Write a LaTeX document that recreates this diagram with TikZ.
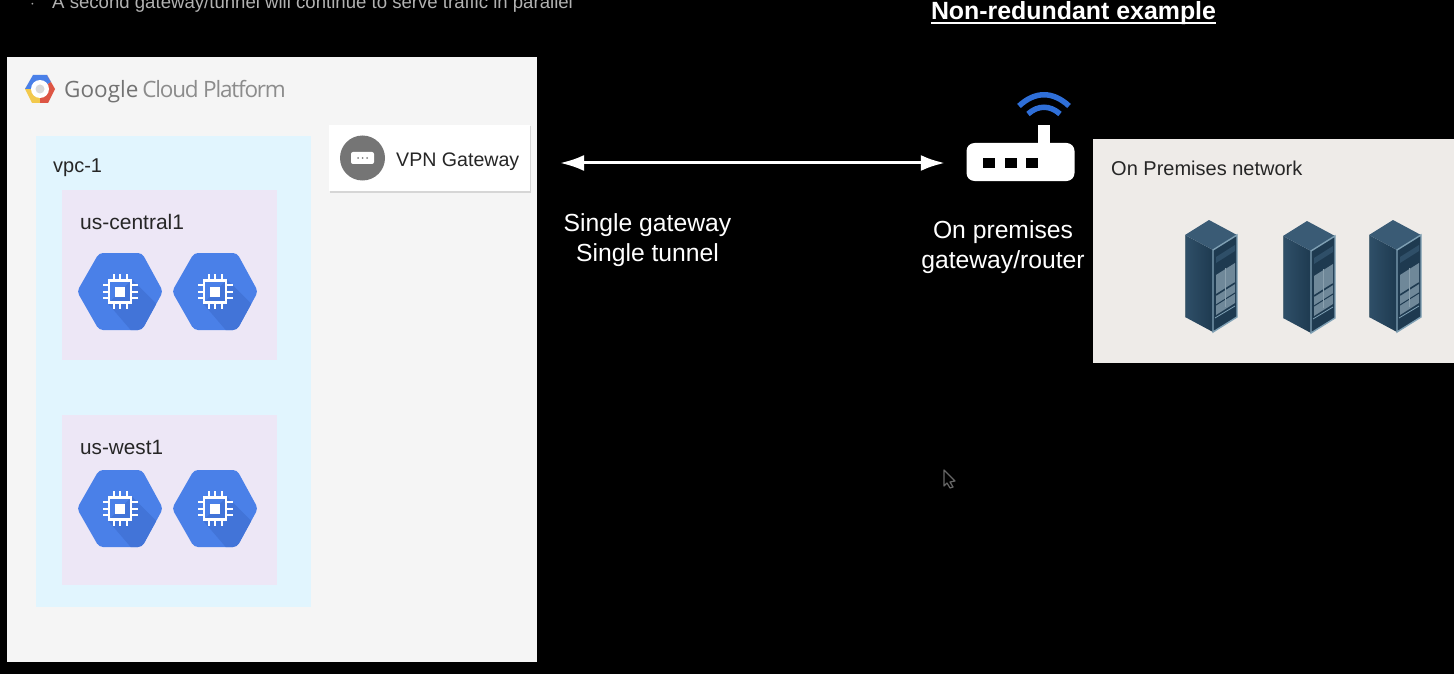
\documentclass[tikz,border=0pt]{standalone}
\usepackage{fontspec}
\usetikzlibrary{arrows.meta}
\setmainfont{Liberation Sans}
\newfontfamily\gcpfont{Open Sans}
\newfontfamily\gcptight[LetterSpace=-5.4]{Open Sans}
\definecolor{gcppanel}{HTML}{F5F5F5}
\definecolor{vpcblue}{HTML}{E1F5FE}
\definecolor{regionlilac}{HTML}{EDE7F6}
\definecolor{premgrey}{HTML}{EEEBE8}
\definecolor{hexblue}{HTML}{4A80E8}
\definecolor{hexdark}{HTML}{4274D8}
\definecolor{wifiblue}{HTML}{2F6FD8}
\definecolor{logoyellow}{HTML}{F2C94C}
\definecolor{logored}{HTML}{DD5544}
\definecolor{rackdark}{HTML}{1E3A50}
\definecolor{rackmid}{HTML}{2F4F68}
\definecolor{racktop}{HTML}{3A5B75}
\definecolor{rackedge}{HTML}{7FA0B4}
\definecolor{rackgrey}{HTML}{8AA0AE}
\tikzset{
	panel/.style={anchor=north west,inner sep=0pt,outer sep=0pt},
	lbl/.style={anchor=west,inner sep=0pt,text=black!85,font=\fontsize{20}{24}\selectfont},
	whitetext/.style={align=center,inner sep=0pt,text=white,font=\fontsize{24.7}{30}\selectfont},
	vm/.pic={
		\begin{scope}
			\clip[rounded corners=4pt] (-43,0) -- (-21,-38.5) -- (22,-38.5) -- (43,0) -- (22,38.5) -- (-21,38.5) -- cycle;
			\fill[hexblue] (-44,-40) rectangle (44,40);
			\fill[hexdark] (12,-12) -- (50,26) -- (50,40) -- (12,40) -- (-12,12) -- cycle;
		\end{scope}
		\draw[white,line width=2.8pt] (-11,-11) rectangle (11,11);
		\fill[white] (-5,-5) rectangle (5,5);
		\foreach \p in {-6.5,0,6.5} {
			\draw[white,line width=2pt] (\p,-11) -- (\p,-17.5);
			\draw[white,line width=2pt] (\p,11) -- (\p,17.5);
			\draw[white,line width=2pt] (-11,\p) -- (-17.5,\p);
			\draw[white,line width=2pt] (11,\p) -- (17.5,\p);
		}
	},
	rack/.pic={
		\shade[left color=rackmid,right color=rackdark] (0,0) -- (28,15) -- (28,97) -- (0,82) -- cycle;
		\fill[racktop] (0,0) -- (24,-15) -- (52,0) -- (28,15) -- cycle;
		\fill[rackdark] (28,15) -- (52,0) -- (52,82) -- (28,97) -- cycle;
		\fill[rackgrey!70!rackmid] (31,40) -- (50,28) -- (50,68) -- (31,80) -- cycle;
		\fill[rackmid] (31,22) -- (50,10) -- (50,16) -- (31,28) -- cycle;
		\draw[rackdark,line width=1.6pt] (31,60) -- (50,48);
		\draw[rackdark,line width=1pt] (31,70) -- (50,58);
		\draw[rackgrey,line width=0.6pt] (40.5,33) -- (40.5,72);
		\draw[rackedge,line width=1.4pt] (28,15) -- (52,0) -- (52,82) -- (28,97) -- cycle;
		\draw[rackedge,line width=0.8pt] (30,83) -- (50,71);
		\draw[rackedge!70!black,line width=0.6pt] (0,0) -- (0,82);
	}
}
\begin{document}
\begin{tikzpicture}[x=1pt,y=-1pt]
	\useasboundingbox (0,0) rectangle (1454,674);
	\fill[black] (0,0) rectangle (1454,674);
	% top line and title
	\node[anchor=base west,inner sep=0pt,text=black!35,font=\fontsize{18.6}{22}\selectfont] (bullet) at (30,9) {$\cdot$};
	\node[anchor=base west,inner sep=0pt,text=black!30,font=\fontsize{18.6}{22}\selectfont] (topline) at (52,9) {A second gateway/tunnel will continue to serve traffic in parallel};
	\node[anchor=base,inner sep=0pt,text=white,font=\bfseries\fontsize{24.9}{28}\selectfont] (title) at (1073.5,20) {Non-redundant example};
	\draw[white,line width=2pt] (title.base west) ++(0,3) -- ++(285,0);
	% cloud side
	\node[panel,fill=gcppanel,minimum width=530pt,minimum height=605pt] (gcp) at (7,57) {};
	\node[panel,fill=vpcblue,minimum width=275pt,minimum height=471pt] (vpc) at (36,136) {};
	\foreach \y/\n in {190/central,415/west}
		\node[panel,fill=regionlilac,minimum width=215pt,minimum height=170pt] (region\n) at (62,\y) {};
	% logo
	\fill[logoyellow] (40,89) -- (30,82) -- (25,89) -- (32,103) -- (46,103) -- cycle;
	\fill[hexblue] (40,89) -- (25,89) -- (33,75) -- (47,75) -- (51,82) -- cycle;
	\fill[logored] (40,89) -- (51,82) -- (47,75) -- (55,89) -- (48,103) -- (40,103) -- cycle;
	\node[circle,fill=white,minimum size=18pt,inner sep=0pt] (logo) at (40,89) {};
	\node[circle,fill=black!15,minimum size=9pt,inner sep=0pt] (logocore) at (40,89) {};
	\node[anchor=base west,inner sep=0pt,font=\gcpfont\fontsize{22.5}{26}\selectfont] (gcpname) at (64,98) {\textcolor{black!55}{Google}\kern4pt\textcolor{black!45}{\gcptight Cloud Platform}};
	\node[lbl] (vpclbl) at (53,167.5) {vpc-1};
	\node[lbl,font=\fontsize{21}{24}\selectfont] (centrallbl) at (80,222) {us-central1};
	\node[lbl,font=\fontsize{20.7}{24}\selectfont] (westlbl) at (80,447) {us-west1};
	% instances
	\foreach \x in {120,215} {
		\pic at (\x,291.5) {vm};
		\pic at (\x,508.5) {vm};
	}
	% vpn gateway
	\node[panel,fill=black!16,minimum width=201pt,minimum height=66pt] (gwshadow) at (330,126.5) {};
	\node[panel,fill=white,minimum width=201pt,minimum height=66pt] (vpngw) at (329,125) {};
	\node[circle,fill=black!54,minimum size=45pt,inner sep=0pt] (gwicon) at (362.5,158) {};
	\fill[white,rounded corners=2pt] (351,152) rectangle (374,164);
	\foreach \x in {358,362.5,367}
		\fill[black!50] (\x,158) circle (1pt);
	\node[lbl,font=\fontsize{19.6}{24}\selectfont] (gwlbl) at (396,161.5) {VPN Gateway};
	% router
	\node[fill=white,rounded corners=8pt,minimum width=108pt,minimum height=38pt,inner sep=0pt] (router) at (1020.5,162) {};
	\fill[white] (1038,125) rectangle (1050,145);
	\foreach \x in {983,1005,1026}
		\fill[black] (\x,158) rectangle +(12,10);
	\draw[wifiblue,line width=5.5pt] (1019,106) .. controls (1035,91) and (1053,91) .. (1069,106);
	\draw[wifiblue,line width=5.5pt] (1028,114) .. controls (1038,105) and (1050,105) .. (1060,114);
	% link
	\draw[white,line width=3pt,{Latex[length=24pt,width=16pt]}-{Latex[length=24pt,width=16pt]},shorten <=30pt,shorten >=21.5pt] ([yshift=-5pt]vpngw.east) -- ([yshift=-1pt]router.west);
	\node[whitetext] (linklbl) at (647.5,240) {Single gateway\\Single tunnel};
	\node[whitetext] (routerlbl) at (1003,247) {On premises\\gateway/router};
	% on premises
	\node[panel,fill=premgrey,minimum width=361pt,minimum height=224pt] (onprem) at (1093,139) {};
	\node[lbl] (onpremlbl) at (1111,168) {On Premises network};
	\foreach \x/\y in {1185/235,1283/236,1369/235}
		\pic at (\x,\y) {rack};
	% cursor
	\draw[black!60,fill=black,line width=1.2pt,line join=round] (944,470) -- (955,481) -- (950,482) -- (953,487) -- (950,488) -- (947,483) -- (944,486) -- cycle;
\end{tikzpicture}
\end{document}
